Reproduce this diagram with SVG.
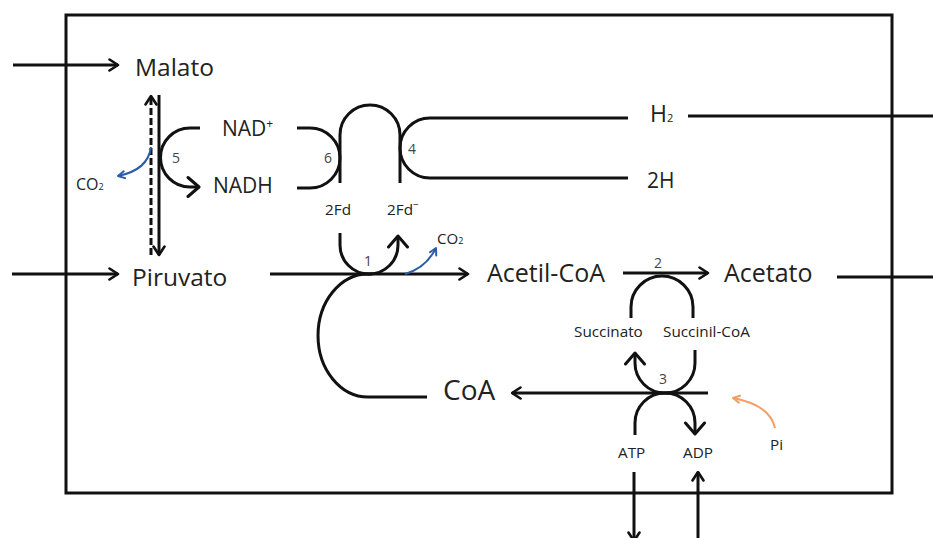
<svg xmlns="http://www.w3.org/2000/svg" width="933" height="538" viewBox="0 0 933 538">
<style>
.ln{fill:none;stroke:#111;stroke-width:3;stroke-linecap:butt}
.t{font-family:"Open Sans","Noto Sans","DejaVu Sans",sans-serif;fill:#222}
.big{font-size:24.5px}
.med{font-size:21px}
.sm{font-size:15.3px}
.num{font-family:"Open Sans","Noto Sans","DejaVu Sans",sans-serif;font-size:14px;fill:#444}
.blue{fill:none;stroke:#2a5ca8;stroke-width:2}
.orange{fill:none;stroke:#f0a066;stroke-width:2}
</style>
<defs>
<marker id="a" viewBox="0 0 12 14" refX="10.5" refY="7" markerWidth="12" markerHeight="14" orient="auto" markerUnits="userSpaceOnUse"><path d="M2,1.5 L10.5,7 L2,12.5" fill="none" stroke="#111" stroke-width="2.6" stroke-linejoin="round" stroke-linecap="round"/></marker>
<marker id="b" viewBox="0 0 16 24" refX="13.5" refY="12" markerWidth="16" markerHeight="24" orient="auto" markerUnits="userSpaceOnUse"><path d="M2.5,2.5 L13.5,12 L2.5,21.5" fill="none" stroke="#111" stroke-width="3" stroke-linejoin="round" stroke-linecap="round"/></marker>
<marker id="bl" viewBox="0 0 10 10" refX="8.5" refY="5" markerWidth="10" markerHeight="10" orient="auto" markerUnits="userSpaceOnUse"><path d="M2,1.5 L8.5,5 L2,8.5" fill="none" stroke="#2a5ca8" stroke-width="2" stroke-linejoin="round" stroke-linecap="round"/></marker>
<marker id="or" viewBox="0 0 10 10" refX="8.5" refY="5" markerWidth="10" markerHeight="10" orient="auto" markerUnits="userSpaceOnUse"><path d="M2,1.5 L8.5,5 L2,8.5" fill="none" stroke="#f0a066" stroke-width="2" stroke-linejoin="round" stroke-linecap="round"/></marker>
</defs>
<rect width="933" height="538" fill="#fff"/>
<rect id="cell" x="66" y="15" width="826" height="478" fill="none" stroke="#111" stroke-width="3"/>

<g id="connectors">
  <path class="ln" d="M13,65 H118" marker-end="url(#a)"/>
  <path class="ln" d="M12,274 H118" marker-end="url(#a)"/>
  <path class="ln" d="M688,116 H933"/>
  <path class="ln" d="M837,277 H933"/>
  <path class="ln" d="M634,472 V541" marker-end="url(#a)"/>
  <path class="ln" d="M698,545 V472" marker-end="url(#a)"/>
  <path class="ln" d="M151,255 V96" stroke-dasharray="7,3" marker-end="url(#a)"/>
  <path class="ln" d="M159,95 V255" marker-end="url(#a)"/>
  <path class="ln" d="M200,128 H190 A29.5,29.5 0 0 0 190,187 H199" marker-end="url(#b)"/>
  <path class="blue" d="M151,147 Q148,170 118,176" marker-end="url(#bl)"/>
  <path class="ln" d="M297,128 H310 A30,30 0 0 1 310,188 H297"/>
  <path class="ln" d="M340,183 V135 A30,30 0 0 1 400,135 V183"/>
  <path class="ln" d="M628,118 H430 A30,30 0 0 0 430,178 H628"/>
  <path class="ln" d="M340,233 V245 A29,29 0 0 0 398,245 V236" marker-end="url(#b)"/>
  <path class="ln" d="M270,274 H468" marker-end="url(#a)"/>
  <path class="blue" d="M405,274 Q426,268 436,248" marker-end="url(#bl)"/>
  <path class="ln" d="M427,397 H368 A50,61.5 0 0 1 368,274 H372"/>
  <path class="ln" d="M623,273 H708" marker-end="url(#a)"/>
  <path class="ln" d="M631,318 V307 A31,31 0 0 1 693,307 V318"/>
  <path class="ln" d="M695,350 V363 A30,30 0 0 1 635,363 V353" marker-end="url(#b)"/>
  <path class="ln" d="M708,393 H512" marker-end="url(#a)"/>
  <path class="ln" d="M635,435 V423 A30,30 0 0 1 695,423 V434" marker-end="url(#b)"/>
  <path class="orange" d="M775,428 Q770,405 733,398" marker-end="url(#or)"/>
</g>

<g id="malato"><text class="t big" x="135" y="76">Malato</text></g>
<g id="piruvato"><text class="t big" x="132" y="286">Piruvato</text></g>
<g id="co2a"><text class="t" x="76" y="190" font-size="16">CO<tspan font-size="9">2</tspan></text></g>
<g id="nad"><text class="t med" x="222" y="136">NAD<tspan font-size="12" dy="-8">+</tspan></text></g>
<g id="nadh"><text class="t med" x="213" y="193">NADH</text></g>
<g id="h2"><text class="t" x="650" y="122" font-size="23">H<tspan font-size="11">2</tspan></text></g>
<g id="h2x"><text class="t med" x="647" y="188">2H</text></g>
<g id="fd"><text class="t sm" x="325" y="215">2Fd</text></g>
<g id="fdm"><text class="t sm" x="387" y="215">2Fd<tspan font-size="10" dy="-7">−</tspan></text></g>
<g id="co2b"><text class="t" x="437" y="244" font-size="15">CO<tspan font-size="9">2</tspan></text></g>
<g id="acetilcoa"><text class="t" x="487" y="282" font-size="25">Acetil-CoA</text></g>
<g id="acetato"><text class="t" x="724" y="282" font-size="25">Acetato</text></g>
<g id="succinato"><text class="t sm" x="574" y="337">Succinato</text></g>
<g id="succinilcoa"><text class="t sm" x="663" y="337">Succinil-CoA</text></g>
<g id="coa"><text class="t" x="443" y="400" font-size="28">CoA</text></g>
<g id="atp"><text class="t sm" x="618" y="458">ATP</text></g>
<g id="adp"><text class="t sm" x="683" y="458">ADP</text></g>
<g id="pi"><text class="t sm" x="770" y="450">Pi</text></g>
<g id="labels">
  <text class="num" x="172" y="163">5</text>
  <text class="num" x="324" y="163">6</text>
  <text class="num" x="408" y="154">4</text>
  <text class="num" x="364" y="266">1</text>
  <text class="num" x="654" y="268">2</text>
  <text class="num" x="659" y="384">3</text>
</g>
</svg>
